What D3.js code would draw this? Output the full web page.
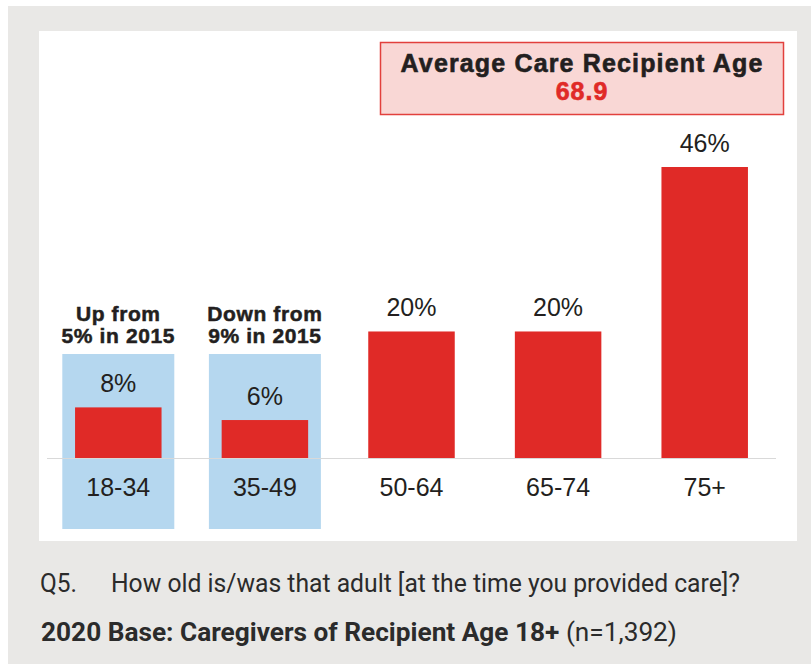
<!DOCTYPE html>
<html>
<head>
<meta charset="utf-8">
<script src="https://cdn.jsdelivr.net/npm/d3@7"></script>
<style>
  html, body { margin: 0; padding: 0; background: #fff; }
  svg { display: block; }
</style>
</head>
<body>
<svg id="chart" width="811" height="664"></svg>
<script>
const categories = ['18-34', '35-49', '50-64', '65-74', '75+'];
const values = [8, 6, 20, 20, 46];
const valueLabels = ['8%', '6%', '20%', '20%', '46%'];
// notes above the highlighted bars
const highlighted = ['18-34', '35-49'];
const notes = [['Up from', '5% in 2015'], ['Down from', '9% in 2015']];
const averageAge = '68.9';

const red = '#e02a27';
const blue = '#b5d7ef';
const ink = '#231f20';
const sans = 'Liberation Sans, Arial, sans-serif';

const svg = d3.select('#chart');

// grey page + white panel
svg.append('rect').attr('x', 8).attr('y', 6).attr('width', 803).attr('height', 658)
  .attr('fill', '#e9e8e6');
svg.append('rect').attr('x', 39).attr('y', 31).attr('width', 758).attr('height', 510)
  .attr('fill', '#fff');

// scales
const baseline = 458;
const x = d3.scaleBand()
  .domain(categories)
  .range([45, 778])
  .paddingInner(0.41)
  .paddingOuter(0.205);
const y = d3.scaleLinear()
  .domain([0, 46])
  .range([baseline, 167]);

// blue highlight panels behind first two bars
svg.append('g').selectAll('rect')
  .data(highlighted)
  .join('rect')
    .attr('x', d => x(d) + x.bandwidth() / 2 - 56)
    .attr('y', 354)
    .attr('width', 112)
    .attr('height', 175)
    .attr('fill', blue);

// bars
svg.append('g').selectAll('rect')
  .data(values)
  .join('rect')
    .attr('x', (d, i) => x(categories[i]))
    .attr('y', d => y(d))
    .attr('width', x.bandwidth())
    .attr('height', d => y(0) - y(d))
    .attr('fill', red);

// baseline
svg.append('line')
  .attr('x1', 47).attr('x2', 776)
  .attr('y1', baseline + 0.5).attr('y2', baseline + 0.5)
  .attr('stroke', '#d9d9d9')
  .attr('stroke-width', 1.2);

// value labels
svg.append('g').selectAll('text')
  .data(values)
  .join('text')
    .attr('x', (d, i) => x(categories[i]) + x.bandwidth() / 2)
    .attr('y', d => y(d) - 15)
    .attr('text-anchor', 'middle')
    .style('font-family', sans)
    .style('font-size', '25px')
    .attr('fill', ink)
    .text((d, i) => valueLabels[i]);

// category axis labels
svg.append('g').selectAll('text')
  .data(categories)
  .join('text')
    .attr('x', d => x(d) + x.bandwidth() / 2)
    .attr('y', 496)
    .attr('text-anchor', 'middle')
    .style('font-family', sans)
    .style('font-size', '25px')
    .attr('fill', ink)
    .text(d => d);

// notes
highlighted.forEach((cat, i) => {
  const t = svg.append('text')
    .attr('x', x(cat) + x.bandwidth() / 2)
    .attr('y', 321)
    .attr('text-anchor', 'middle')
    .style('font-family', sans)
    .style('font-size', '21px')
    .style('font-weight', 'bold')
    .style('letter-spacing', '0.6px')
    .attr('fill', ink)
    .attr('stroke', ink)
    .attr('stroke-width', 0.5);
  notes[i].forEach((line, j) => {
    t.append('tspan')
      .attr('x', x(cat) + x.bandwidth() / 2)
      .attr('dy', j === 0 ? 0 : 22)
      .text(line);
  });
});

// average age box
svg.append('rect')
  .attr('x', 380.5).attr('y', 42.5).attr('width', 403).attr('height', 72)
  .attr('fill', '#f9d7d5')
  .attr('stroke', '#e2403d')
  .attr('stroke-width', 1.5);
svg.append('text')
  .attr('x', 582).attr('y', 72)
  .attr('text-anchor', 'middle')
  .style('font-family', sans)
  .style('font-size', '25px')
  .style('font-weight', 'bold')
  .style('letter-spacing', '1.15px')
  .attr('fill', ink)
  .attr('stroke', ink)
  .attr('stroke-width', 0.6)
  .text('Average Care Recipient Age');
svg.append('text')
  .attr('x', 582).attr('y', 100)
  .attr('text-anchor', 'middle')
  .style('font-family', sans)
  .style('font-size', '25px')
  .style('font-weight', 'bold')
  .style('letter-spacing', '1px')
  .attr('fill', red)
  .attr('stroke', red)
  .attr('stroke-width', 0.6)
  .text(averageAge);

// footer
const footStyle = sel => sel
  .style('font-family', 'Roboto, sans-serif')
  .style('font-size', '25px')
  .attr('fill', '#2b2b2b')
  .attr('lengthAdjust', 'spacingAndGlyphs');

svg.append('text')
  .attr('x', 40).attr('y', 592)
  .call(footStyle)
  .attr('textLength', 37)
  .text('Q5.');
svg.append('text')
  .attr('x', 111).attr('y', 592)
  .call(footStyle)
  .attr('textLength', 629)
  .text('How old is/was that adult [at the time you provided care]?');

const base = svg.append('text')
  .attr('x', 41).attr('y', 641)
  .call(footStyle)
  .attr('textLength', 636);
base.append('tspan').style('font-weight', 'bold').text('2020 Base: Caregivers of Recipient Age 18+');
base.append('tspan').text(' (n=1,392)');
</script>
</body>
</html>
